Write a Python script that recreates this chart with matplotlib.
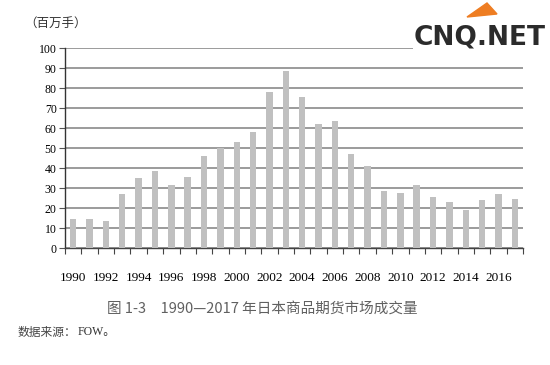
import numpy as np
import matplotlib.pyplot as plt
from matplotlib.patches import Polygon

plt.rcParams['font.family'] = ['Liberation Serif', 'Noto Sans CJK SC']

# Japanese commodity futures volume, millions of contracts
years = np.arange(1990, 2018)
volume = [14.7, 14.8, 13.5, 27.2, 35.3, 38.8, 31.7, 35.5, 46.2, 50.1,
          53.0, 58.0, 78.3, 88.7, 75.8, 62.2, 63.7, 47.0, 41.2, 28.7,
          27.5, 31.7, 25.5, 23.3, 19.3, 24.2, 27.3, 24.5]
label_years = years[::2]

fig = plt.figure(figsize=(5.5, 3.65), dpi=100)
ax = fig.add_axes([65 / 550, 1 - 248.3 / 365, 458 / 550, 200 / 365])

x = np.arange(len(years))
ax.bar(x, volume, width=0.39, color='#c0c0c0', zorder=3)

ax.set_ylim(0, 100)
ax.set_xlim(-0.5, len(years) - 0.5)
ax.set_yticks(np.arange(0, 101, 10))
ax.yaxis.grid(True, color='#808080', linewidth=1.1, zorder=1)
ax.tick_params(axis='y', length=4, width=0.8, color='#555555', labelsize=8.5, pad=2)

# tick marks between bars, labels under even years
ax.set_xticks(np.arange(-0.5, len(years), 1.0))
ax.set_xticklabels([])
ax.tick_params(axis='x', which='major', length=4, width=0.8, color='#444444')
ax.set_xticks(x[::2], minor=True)
ax.set_xticklabels([str(y) for y in label_years], minor=True)
ax.tick_params(axis='x', which='minor', length=0, labelsize=9.5, pad=17)

for s in ['top', 'right']:
    ax.spines[s].set_visible(False)
ax.spines['left'].set_color('#333333')
ax.spines['bottom'].set_color('#444444')
ax.spines['left'].set_linewidth(1.0)
ax.spines['bottom'].set_linewidth(1.0)

fig.text(24 / 550, 1 - 24 / 365, '（百万手）', fontsize=9, color='#333333',
         family=['Noto Sans CJK SC'], va='center', ha='left')

fig.text(262 / 550, 1 - 309 / 365, '图 1-3　1990—2017 年日本商品期货市场成交量',
         fontsize=10.5, color='#606060', family=['Noto Sans CJK SC', 'DejaVu Sans'],
         ha='center', va='center')
fig.text(18 / 550, 1 - 332 / 365, '数据来源：', fontsize=8.5, color='#444444',
         family=['Noto Sans CJK SC'], ha='left', va='center')
fig.text(78 / 550, 1 - 332 / 365, 'FOW。', fontsize=8.5, color='#333333',
         family=['Liberation Serif', 'Noto Sans CJK SC'], ha='left', va='center')

# watermark logo
fig.text(480 / 550, 1 - 37 / 365, 'CNQ.NET', fontsize=19, fontweight='bold',
         color='#2b2b2b', family=['DejaVu Sans'],
         ha='center', va='center',
         bbox=dict(facecolor='white', edgecolor='none', pad=1))
fig.patches.append(Polygon([[467 / 550, 1 - 17 / 365], [487 / 550, 1 - 3 / 365],
                            [497 / 550, 1 - 14 / 365]], closed=True,
                           transform=fig.transFigure, color='#ee7d22'))

fig.savefig('out.png', dpi=100)
